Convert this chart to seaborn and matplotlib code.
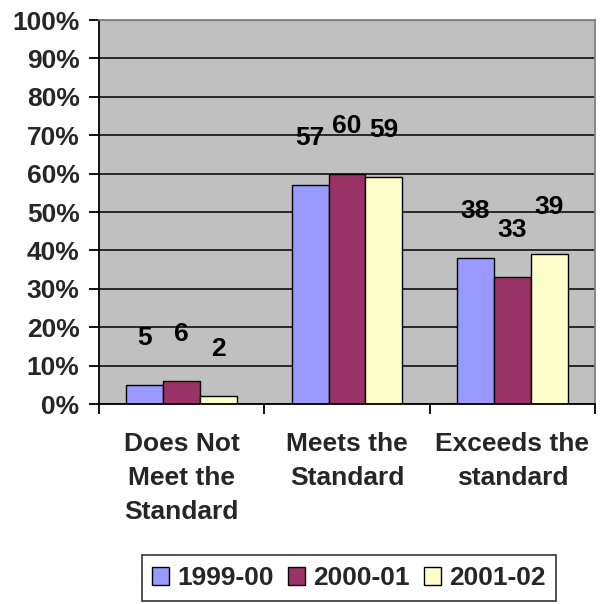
import matplotlib

matplotlib.use("Agg")
import matplotlib.pyplot as plt
import pandas as pd
import seaborn as sns

# Chart data (percent of students per standard level)
CATEGORIES = ["Does Not\nMeet the\nStandard", "Meets the\nStandard", "Exceeds the\nstandard"]
YEARS = ["1999-00", "2000-01", "2001-02"]
VALUES_1999_00 = [5, 57, 38]
VALUES_2000_01 = [6, 60, 33]
VALUES_2001_02 = [2, 59, 39]
Y_TICKS = [0, 10, 20, 30, 40, 50, 60, 70, 80, 90, 100]

COLORS = ["#9999FF", "#993366", "#FFFFCC"]
PLOT_BG = "#C0C0C0"
FONT_SIZE = 19


def build_frame() -> pd.DataFrame:
    """Long-form table for seaborn."""
    rows = []
    for year, vals in zip(YEARS, [VALUES_1999_00, VALUES_2000_01, VALUES_2001_02]):
        for cat, v in zip(CATEGORIES, vals):
            rows.append({"category": cat, "year": year, "value": v})
    return pd.DataFrame(rows)


def main() -> None:
    sns.set_style("white")
    plt.rcParams["font.family"] = ["Liberation Sans", "DejaVu Sans"]
    plt.rcParams["font.weight"] = "bold"

    df = build_frame()

    fig = plt.figure(figsize=(6.08, 6.04), dpi=100, facecolor="white")
    ax = fig.add_axes([99 / 608, 1 - 404 / 604, (595 - 99) / 608, (404 - 20) / 604])
    ax.set_facecolor(PLOT_BG)

    sns.barplot(
        data=df,
        x="category",
        y="value",
        hue="year",
        order=CATEGORIES,
        hue_order=YEARS,
        palette=COLORS,
        width=0.67,
        gap=0,
        edgecolor="black",
        linewidth=1.0,
        saturation=1,
        ax=ax,
        legend=True,
    )

    # data labels sit well above each bar, Excel style
    for container in ax.containers:
        for bar in container:
            h = bar.get_height()
            ax.annotate(
                f"{h:.0f}",
                (bar.get_x() + bar.get_width() / 2, h),
                xytext=(0, 34),
                textcoords="offset points",
                ha="center",
                va="center",
                fontsize=FONT_SIZE,
                fontweight="bold",
                color="black",
            )

    ax.set_ylim(0, 100)
    ax.set_xlim(-0.5, 2.5)
    ax.set_yticks(Y_TICKS)
    ax.set_yticklabels([f"{t}%" for t in Y_TICKS], fontsize=FONT_SIZE, fontweight="bold")
    ax.grid(axis="y", color="black", linewidth=1.1)
    ax.set_axisbelow(True)

    ax.set_xticks(range(len(CATEGORIES)))
    ax.set_xticklabels(CATEGORIES, fontsize=FONT_SIZE, fontweight="bold", linespacing=1.52, va="top")
    ax.set_xticks([-0.5, 0.5, 1.5, 2.5], minor=True)
    ax.tick_params(axis="x", which="major", length=0, pad=20)
    ax.tick_params(axis="x", which="minor", length=7, width=1.3, direction="out", color="black", bottom=True)
    ax.tick_params(axis="y", length=7, width=1.3, direction="out", color="black", left=True, pad=7)
    ax.set_xlabel("")
    ax.set_ylabel("")

    for side in ["left", "bottom"]:
        ax.spines[side].set_color("black")
        ax.spines[side].set_linewidth(1.3)
    for side in ["top", "right"]:
        ax.spines[side].set_color("#808080")
        ax.spines[side].set_linewidth(1.3)

    handles, labels = ax.get_legend_handles_labels()
    ax.get_legend().remove()
    leg = fig.legend(
        handles,
        labels,
        loc="center",
        bbox_to_anchor=(349 / 608, 1 - 578 / 604),
        ncol=3,
        frameon=True,
        fancybox=False,
        edgecolor="black",
        handlelength=0.65,
        handleheight=0.65,
        handletextpad=0.3,
        columnspacing=0.55,
        borderpad=0.4,
        prop={"size": FONT_SIZE, "weight": "bold"},
    )
    leg.get_frame().set_linewidth(1.2)

    fig.savefig("out.png", dpi=100, facecolor="white")
    plt.close(fig)


if __name__ == "__main__":
    main()
